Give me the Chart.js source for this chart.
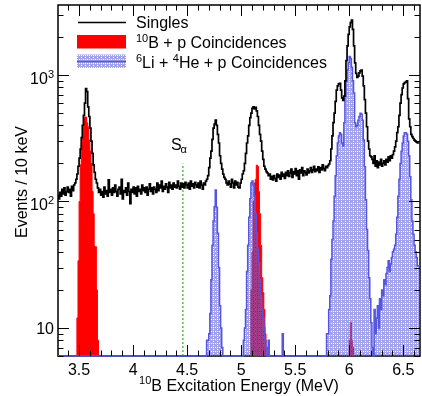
<!DOCTYPE html>
<html>
<head>
<meta charset="utf-8">
<script src="https://cdn.jsdelivr.net/npm/chart.js@4.4.1/dist/chart.umd.min.js"></script>
<style>
  html, body { margin: 0; padding: 0; background: #fff; }
  canvas { display: block; }
</style>
</head>
<body>
<canvas id="spectrum" width="422" height="396"></canvas>
<script>
/* ==============================
   DATA (10 keV bins, first bin starts at 3.30 MeV)
============================== */
const binStart = 3.30;
const binWidth = 0.01;

// singles spectrum, one row = 10 bins
const singles = [
  108, 112, 105, 118, 110, 125, 115, 128, 112, 120,   // 3.30
  130, 118, 125, 110, 132, 122, 135, 140, 150, 165,   // 3.40
  190, 220, 260, 320, 400, 480, 600, 780, 740, 560,   // 3.50
  470, 380, 300, 240, 195, 170, 150, 140, 128, 118,   // 3.60
  125, 112, 120, 108, 130, 115, 122, 110, 148, 118,   // 3.70
  125, 112, 128, 118, 135, 120, 110, 125, 130, 115,   // 3.80
  150, 105, 122, 118, 128, 112, 140, 120, 96, 125,    // 3.90
  118, 130, 115, 128, 110, 132, 120, 125, 115, 135,   // 4.00
  122, 128, 118, 130, 112, 125, 138, 120, 128, 115,   // 4.10
  130, 125, 118, 140, 122, 135, 128, 145, 120, 132,   // 4.20
  125, 138, 130, 118, 142, 128, 135, 125, 140, 130,   // 4.30
  135, 128, 145, 132, 125, 140, 130, 138, 128, 142,   // 4.40
  135, 128, 140, 125, 145, 132, 138, 128, 142, 135,   // 4.50
  130, 140, 128, 145, 135, 125, 140, 135, 145, 150,   // 4.60
  160, 185, 220, 250, 310, 380, 410, 440, 400, 340,   // 4.70
  290, 230, 200, 180, 165, 155, 150, 140, 135, 145,   // 4.80
  138, 130, 150, 140, 128, 145, 135, 142, 130, 128,   // 4.90
  140, 150, 165, 175, 200, 240, 290, 330, 400, 460,   // 5.00
  500, 545, 560, 540, 555, 520, 470, 400, 340, 300,   // 5.10
  250, 215, 190, 180, 172, 168, 160, 165, 150, 158,   // 5.20
  148, 160, 152, 145, 165, 155, 162, 150, 170, 158,   // 5.30
  165, 152, 170, 160, 175, 158, 168, 180, 155, 172,   // 5.40
  165, 182, 160, 175, 150, 178, 168, 185, 160, 175,   // 5.50
  170, 162, 180, 168, 175, 185, 170, 178, 190, 172,   // 5.60
  180, 175, 188, 170, 185, 178, 195, 182, 175, 190,   // 5.70
  185, 192, 198, 210, 260, 330, 420, 500, 620, 760,   // 5.80
  820, 850, 860, 760, 660, 630, 680, 900, 1300, 1700, // 5.90
  2100, 2400, 2600, 2720, 2300, 1700, 1250, 1030, 960, 980, // 6.00
  1040, 1080, 1095, 980, 820, 640, 500, 390, 300, 260, // 6.10
  230, 225, 215, 200, 230, 190, 210, 185, 205, 195,   // 6.20
  215, 190, 200, 210, 195, 215, 205, 225, 210, 230,   // 6.30
  220, 235, 250, 270, 300, 350, 390, 480, 600, 700,   // 6.40
  790, 850, 870, 880, 900, 650, 450, 390, 340, 326,   // 6.50
  315, 306, 300, 295, 290                             // 6.60
];

// 10B + p coincidences: [first bin (MeV), counts]
const boronSegments = [
  [3.49, [12, 34, 100, 195, 280, 330, 390, 466, 466, 420, 390, 306, 250, 200, 120, 80, 44, 44, 20, 8]],
  [5.10, [20, 40, 100, 140, 150, 194, 190, 120, 80, 45, 25, 19, 14, 9]],
  [6.01, [8, 11, 8, 7]]
];

// 6Li + 4He + p coincidences: [first bin (MeV), counts]
const lithiumSegments = [
  [4.69, [8, 8, 9, 13, 24, 45, 70, 91, 123, 90, 56, 30, 15, 10, 7]],
  [5.03, [8, 10, 14, 28, 45, 75, 105, 140, 145, 135, 110, 80, 56, 42, 33, 24, 18, 14, 12, 10, 8, 7, 0, 8]],
  [5.39, [9]],
  [5.80, [9, 9, 14, 18, 35, 50, 70, 110, 160, 230,
          290, 330, 350, 340, 290, 275, 420, 680, 900, 1100,
          1250, 1400, 1350, 1150, 900, 720, 420, 390, 400, 440,
          470, 498, 490, 440, 306, 188, 103, 60, 41, 25,
          17, 11, 7, 0, 14, 9, 12, 15, 10, 17,
          14, 20, 18, 24, 22, 27, 30, 34, 28, 32,
          36, 40, 42, 45, 55, 75, 110, 150, 200, 250,
          290, 330, 350, 350, 340, 300, 230, 157, 103, 70,
          55, 45, 40, 36, 31]]
];

const sAlphaEnergy = 4.461;
const sAlphaTop = 200;

const xMajorTicks = [3.5, 4, 4.5, 5, 5.5, 6, 6.5];
const xTickLabels = ['3.5', '4', '4.5', '5', '5.5', '6', '6.5'];
const yDecades = [10, 100, 1000];
const yDecadeExp = ['', '2', '3'];

const X_MIN = 3.305, X_MAX = 6.655;
const Y_MIN = 6, Y_MAX = 3580;

/* ==============================
   HELPERS
============================== */
function fromSegments(segs) {
  const arr = new Array(singles.length).fill(0);
  segs.forEach(([from, counts]) => {
    const i0 = Math.round((from - binStart) / binWidth);
    counts.forEach((c, k) => { arr[i0 + k] = c; });
  });
  return arr;
}

// histogram bins -> points for a stepped line (zero bins sit on the axis floor)
function toSteps(counts) {
  const pts = counts.map((c, i) => ({ x: +(binStart + i * binWidth).toFixed(2), y: c > 0 ? c : Y_MIN }));
  const last = counts[counts.length - 1];
  pts.push({ x: +(binStart + counts.length * binWidth).toFixed(2), y: last > 0 ? last : Y_MIN });
  return pts;
}

function hatch() {
  const c = document.createElement('canvas');
  c.width = 4; c.height = 4;
  const g = c.getContext('2d');
  g.fillStyle = 'rgba(100,100,228,0.6)';
  g.fillRect(0, 0, 4, 4);
  g.clearRect(1, 1, 1, 1);
  g.clearRect(3, 3, 1, 1);
  g.clearRect(1, 3, 1, 1);
  return g.createPattern(c, 'repeat');
}

const FONT = '"Liberation Sans", Arial, Helvetica, sans-serif';

// runs: [text, size, rise]
function drawRuns(ctx, runs, x, y, align) {
  let w = 0;
  runs.forEach(r => { ctx.font = r[1] + 'px ' + FONT; w += ctx.measureText(r[0]).width; });
  let cx = align === 'right' ? x - w : align === 'center' ? x - w / 2 : x;
  runs.forEach(r => {
    ctx.font = r[1] + 'px ' + FONT;
    ctx.fillText(r[0], cx, y - (r[2] || 0));
    cx += ctx.measureText(r[0]).width;
  });
}

/* ==============================
   ROOT-STYLE FRAME, TICKS, TEXT
============================== */
const blueLine = '#5555e0';
const bluePattern = hatch();

const rootStyle = {
  id: 'rootStyle',
  beforeDatasetsDraw(chart) {
    const { ctx, chartArea: a } = chart;
    ctx.save();
    ctx.strokeStyle = '#000';
    ctx.lineWidth = 1.5;
    ctx.strokeRect(a.left, a.top, a.right - a.left, a.bottom - a.top);
    ctx.restore();
  },
  afterDatasetsDraw(chart) {
    const { ctx, chartArea: a, scales: { x, y } } = chart;
    ctx.save();
    ctx.strokeStyle = '#000';
    ctx.lineWidth = 1;
    ctx.beginPath();
    for (let k = 34; k <= 66; k++) {
      const px = Math.round(x.getPixelForValue(k / 10)) + 0.5;
      const len = k % 5 === 0 ? 11 : 5.5;
      ctx.moveTo(px, a.bottom); ctx.lineTo(px, a.bottom - len);
      ctx.moveTo(px, a.top); ctx.lineTo(px, a.top + len);
    }
    [1, 10, 100, 1000].forEach(d => {
      for (let m = 1; m <= 9; m++) {
        const v = m * d;
        if (v < Y_MIN || v > Y_MAX) continue;
        const py = Math.round(y.getPixelForValue(v)) + 0.5;
        const len = m === 1 ? 11 : 5.5;
        ctx.moveTo(a.left, py); ctx.lineTo(a.left + len, py);
        ctx.moveTo(a.right, py); ctx.lineTo(a.right - len, py);
      }
    });
    ctx.stroke();

    ctx.fillStyle = '#000';
    ctx.textAlign = 'left';
    ctx.textBaseline = 'alphabetic';

    // x tick labels
    xMajorTicks.forEach((v, i) => {
      drawRuns(ctx, [[xTickLabels[i], 16]], x.getPixelForValue(v), 375, 'center');
    });
    // y tick labels
    yDecades.forEach((v, i) => {
      const py = y.getPixelForValue(v);
      if (yDecadeExp[i]) drawRuns(ctx, [['10', 16], [yDecadeExp[i], 11, 6]], 54, py + 9, 'right');
      else drawRuns(ctx, [['10', 16]], 54, py + 6.5, 'right');
    });

    // axis titles
    drawRuns(ctx, [['10', 11, 7], ['B Excitation Energy (MeV)', 16]], (a.left + a.right) / 2, 391, 'center');
    ctx.save();
    ctx.translate(27, 182);
    ctx.rotate(-Math.PI / 2);
    drawRuns(ctx, [['Events / 10 keV', 16]], 0, 0, 'center');
    ctx.restore();

    // S_alpha label
    const sx = x.getPixelForValue(sAlphaEnergy);
    drawRuns(ctx, [['S', 16]], sx - 12, 150, 'left');
    drawRuns(ctx, [['\u03b1', 11]], sx - 2.5, 153, 'left');

    // legend
    ctx.strokeStyle = '#000';
    ctx.lineWidth = 1.5;
    ctx.beginPath(); ctx.moveTo(78, 22.5); ctx.lineTo(126, 22.5); ctx.stroke();
    drawRuns(ctx, [['Singles', 16]], 136, 27.5, 'left');

    ctx.fillStyle = '#ff0000';
    ctx.fillRect(77, 35, 49, 13.5);
    ctx.fillStyle = '#000';
    drawRuns(ctx, [['10', 11, 6], ['B + p Coincidences', 16]], 136, 48, 'left');

    ctx.fillStyle = bluePattern;
    ctx.fillRect(77, 54.5, 49, 13.5);
    ctx.strokeStyle = blueLine;
    ctx.lineWidth = 1.3;
    ctx.beginPath(); ctx.moveTo(77, 61.5); ctx.lineTo(126, 61.5); ctx.stroke();
    ctx.fillStyle = '#000';
    drawRuns(ctx, [['6', 11, 6], ['Li + ', 16], ['4', 11, 6], ['He + p Coincidences', 16]], 136, 68, 'left');
    ctx.restore();
  }
};

/* ==============================
   CHART
============================== */
new Chart(document.getElementById('spectrum').getContext('2d'), {
  type: 'line',
  data: {
    datasets: [
      {
        label: 'Singles',
        data: toSteps(singles),
        stepped: 'after',
        borderColor: '#000',
        borderWidth: 1.7,
        pointRadius: 0,
        fill: false
      },
      {
        label: 'S_alpha',
        data: [{ x: sAlphaEnergy, y: Y_MIN }, { x: sAlphaEnergy, y: sAlphaTop }],
        borderColor: '#00a000',
        borderWidth: 1,
        borderDash: [2, 2],
        pointRadius: 0,
        fill: false
      },
      {
        label: '6Li + 4He + p Coincidences',
        data: toSteps(fromSegments(lithiumSegments)),
        stepped: 'after',
        borderColor: blueLine,
        borderWidth: 1.5,
        backgroundColor: bluePattern,
        pointRadius: 0,
        fill: 'start',
        clip: { left: 0, top: 0, right: 0, bottom: 2 }
      },
      {
        label: '10B + p Coincidences',
        data: toSteps(fromSegments(boronSegments)),
        stepped: 'after',
        borderColor: '#ff0000',
        borderWidth: 1,
        backgroundColor: '#ff0000',
        pointRadius: 0,
        fill: 'start'
      }
    ]
  },
  options: {
    responsive: false,
    devicePixelRatio: 1,
    animation: false,
    events: [],
    layout: { padding: { left: 58, right: 2, top: 5, bottom: 40 } },
    plugins: { legend: { display: false }, tooltip: { enabled: false } },
    scales: {
      x: { type: 'linear', min: X_MIN, max: X_MAX, display: false },
      y: { type: 'logarithmic', min: Y_MIN, max: Y_MAX, display: false }
    }
  },
  plugins: [rootStyle]
});
</script>
</body>
</html>
